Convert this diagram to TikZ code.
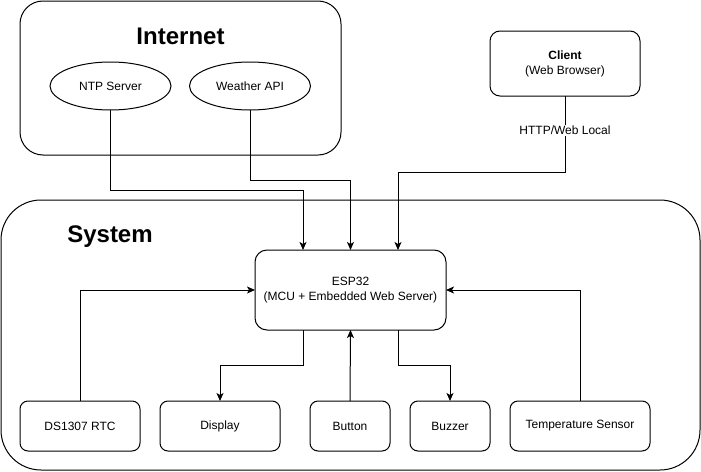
\documentclass[tikz,border=0pt]{standalone}
\usepackage{fontspec}
\setmainfont{Liberation Sans}
\usetikzlibrary{shapes}
\usetikzlibrary{positioning}
\usetikzlibrary{arrows.meta}
\tikzset{
    groupbox/.style = {rectangle, draw=black, line width=1pt, inner sep=0pt, outer sep=0pt},
    grouptitle/.style = {font=\fontsize{24}{28}\selectfont\bfseries},
    mybox/.style = {rectangle, rounded corners=8pt, draw=black, line width=1pt, align=center, minimum height=50pt, inner sep=0pt, outer sep=0pt, font=\fontsize{12}{15}\selectfont},
    myellipse/.style = {ellipse, draw=black, line width=1pt, minimum width=121pt, minimum height=48pt, inner sep=0pt, outer sep=0pt, font=\fontsize{12}{15}\selectfont},
    edgen/.style = {-{Stealth[length=8pt,width=7pt,inset=2pt]},line width=1pt},
    edgelabel/.style = {fill=white, inner sep=1pt, font=\fontsize{12}{15}\selectfont}
}
\begin{document}
\begin{tikzpicture}[x=1pt,y=-1pt]
  \useasboundingbox (0,0) rectangle (701,471);

  % groups
  \node[groupbox, rounded corners=23pt, minimum width=321pt, minimum height=154pt] (internet) at (180.5,78) {};
  \node[grouptitle] (internettitle) at (180.5,36) {Internet};
  \node[groupbox, rounded corners=40pt, minimum width=699pt, minimum height=270pt] (system) at (350.5,335) {};
  \node[grouptitle] (systemtitle) at (110,237) {System};

  % internet services
  \node[myellipse] (ntp) at (110.5,86) {NTP Server};
  \node[myellipse] (weather) at (250,86) {Weather API};

  % client
  \node[mybox, rounded corners=10pt, minimum width=150pt, minimum height=65pt] (client) at (565,63.5) {\textbf{Client}\\(Web Browser)};

  % core
  \node[mybox, rounded corners=12pt, minimum width=191pt, minimum height=80pt] (esp) at (350.5,290) {ESP32\\(MCU + Embedded Web Server)};

  % peripherals
  \node[mybox, minimum width=120pt] (rtc) at (80,426) {DS1307 RTC};
  \node[mybox, minimum width=120pt, right=20pt of rtc] (display) {Display};
  \node[mybox, minimum width=80pt, right=30pt of display] (button) {Button};
  \node[mybox, minimum width=80pt, right=20pt of button] (buzzer) {Buzzer};
  \node[mybox, minimum width=140pt, right=20pt of buzzer] (temp) {Temperature Sensor};

  % connectors
  \draw[edgen] (ntp.south) -- ++(0,80) -| ([xshift=-47.5pt]esp.north);
  \draw[edgen] (weather.south) -- ++(0,70) -| (esp.north);
  \draw[edgen] (client.south) -- node[edgelabel, pos=0.45] {HTTP/Web Local} ++(0,76) -| ([xshift=47.5pt]esp.north);
  \draw[edgen] (rtc.north) |- (esp.west);
  \draw[edgen] ([xshift=-47.5pt]esp.south) -- ++(0,35) -| (display.north);
  \draw[edgen] (button.north) -- (esp.south);
  \draw[edgen] ([xshift=47.5pt]esp.south) -- ++(0,35) -| (buzzer.north);
  \draw[edgen] (temp.north) |- (esp.east);
\end{tikzpicture}
\end{document}
